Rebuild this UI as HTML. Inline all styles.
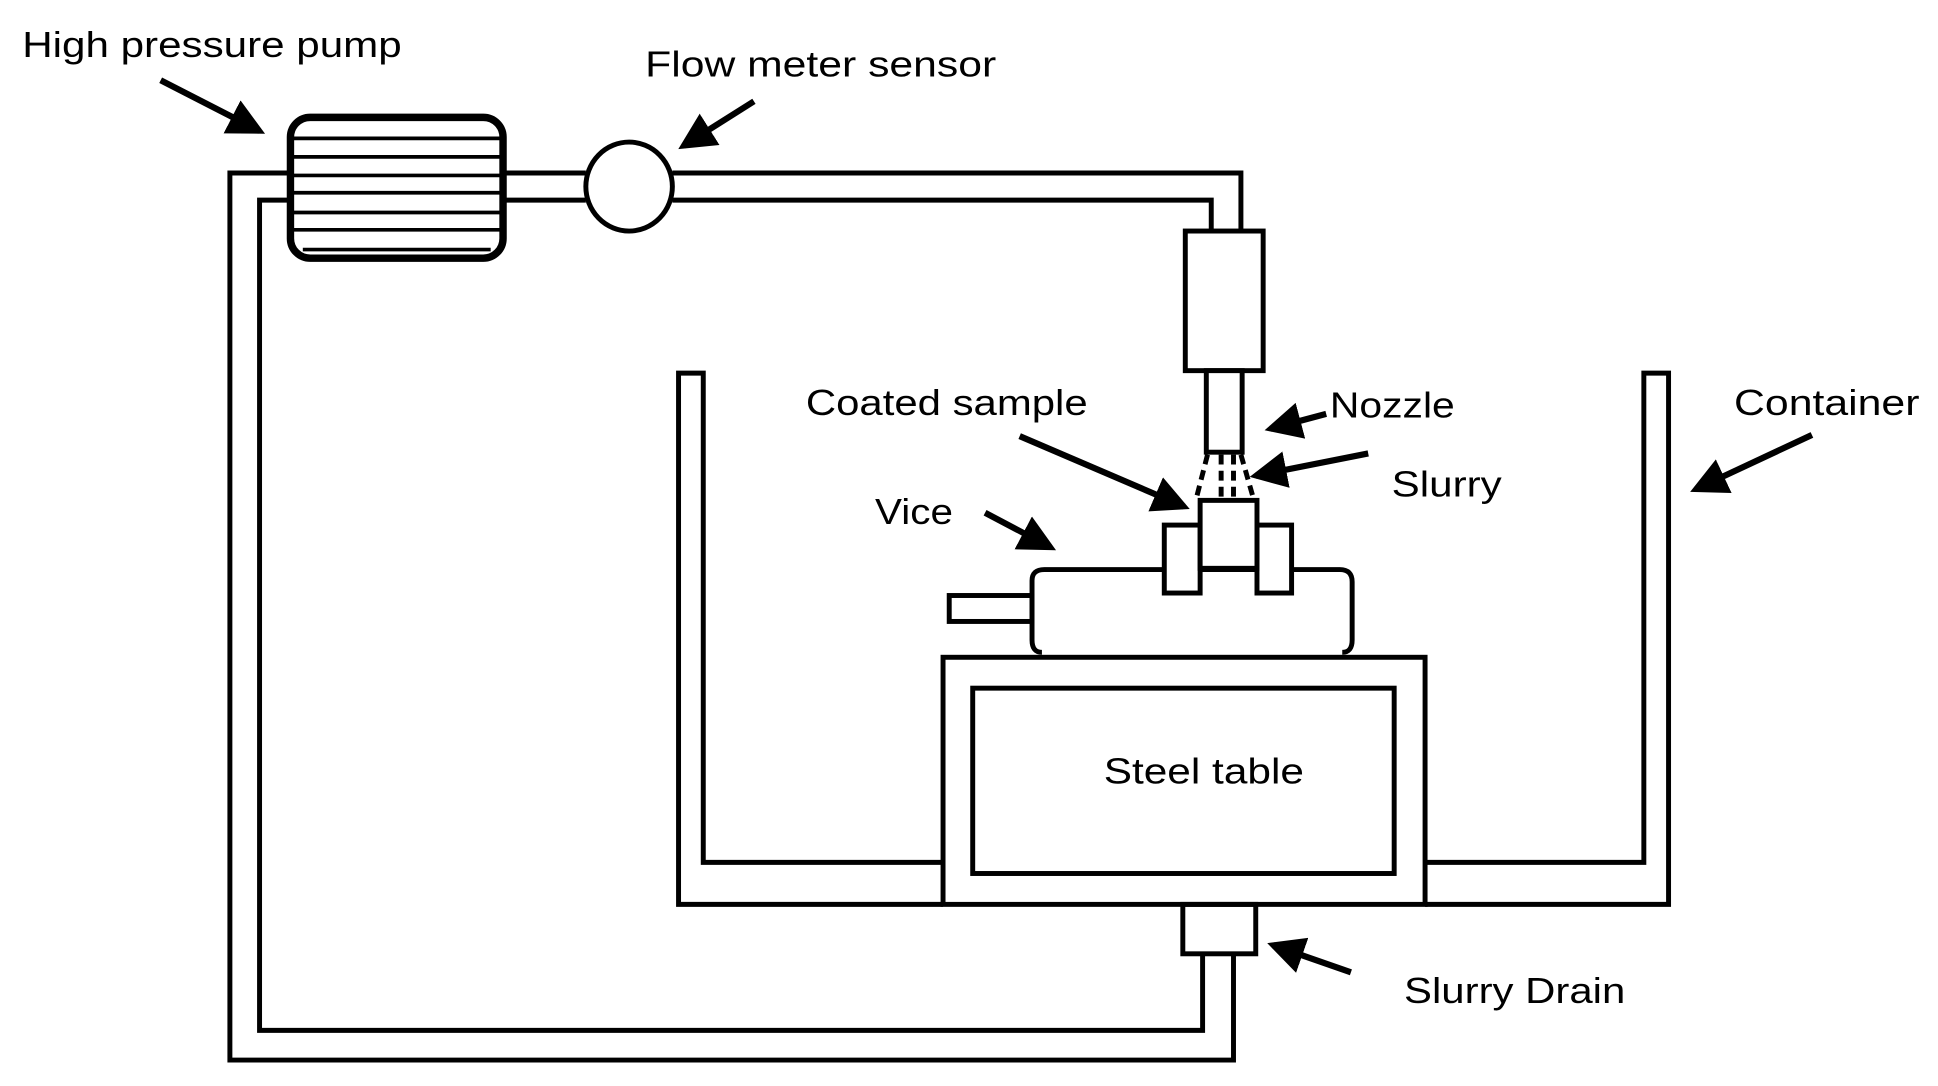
<!DOCTYPE html>
<html><head><style>html,body{margin:0;padding:0;background:#fff;overflow:hidden}svg{display:block}</style></head>
<body>
<svg width="1938" height="1086" viewBox="0 0 1568 879" preserveAspectRatio="none" xmlns="http://www.w3.org/2000/svg" font-family="Liberation Sans, sans-serif" font-size="29">
<defs>
<marker id="ah" markerWidth="6" markerHeight="6" refX="5" refY="3" orient="auto" markerUnits="strokeWidth"><path d="M0,0 L6,3 L0,6 z" fill="#000"/></marker>
</defs>
<g fill="none" stroke="#000" stroke-width="4">
<polyline points="233,140 186,140 186,858 998,858 998,772"/>
<polyline points="233,162 210,162 210,834 973,834 973,772"/>
<line x1="409" y1="140" x2="474" y2="140"/><line x1="409" y1="162" x2="474" y2="162"/>
<polyline points="544,140 1004,140 1004,187"/>
<polyline points="544,162 980,162 980,187"/>
<rect x="235" y="95" width="172" height="114" rx="16" stroke-width="6" fill="#fff"/>
<g stroke-width="3"><line x1="237" y1="112" x2="405" y2="112"/><line x1="237" y1="127" x2="405" y2="127"/><line x1="237" y1="142" x2="405" y2="142"/><line x1="237" y1="156" x2="405" y2="156"/><line x1="237" y1="172" x2="405" y2="172"/><line x1="237" y1="186" x2="405" y2="186"/><line x1="245" y1="202" x2="397" y2="202"/></g>
<ellipse cx="509" cy="151" rx="35" ry="36" fill="#fff"/>
<rect x="959" y="187" width="63" height="113" fill="#fff"/>
<rect x="976" y="300" width="29" height="66" fill="#fff"/>
<g stroke-dasharray="8,5" stroke-width="4"><line x1="977" y1="368" x2="968" y2="403"/><line x1="1004" y1="368" x2="1014" y2="403"/><line x1="988" y1="368" x2="988" y2="403"/><line x1="998" y1="368" x2="998" y2="403"/></g>
<polyline points="763,732 549,732 549,302 569,302 569,698 763,698"/>
<polyline points="1153,732 1350,732 1350,302 1330,302 1330,698 1153,698"/>
<rect x="763" y="532" width="390" height="200"/>
<rect x="787" y="557" width="341" height="150"/>
<rect x="957" y="732" width="59" height="40"/>
<path d="M843,528 Q835,528 835,518 L835,470 Q835,461 845,461 L1084,461 Q1094,461 1094,471 L1094,518 Q1094,528 1086,528"/>
<rect x="768" y="482" width="67" height="21"/>
<rect x="942" y="425" width="29" height="55" fill="#fff"/>
<rect x="1017" y="425" width="28" height="55" fill="#fff"/>
<rect x="971" y="405" width="46" height="55" fill="#fff"/>
<g stroke-width="5" marker-end="url(#ah)">
<line x1="130" y1="65" x2="210" y2="106"/>
<line x1="610" y1="82" x2="553" y2="118"/>
<line x1="1073" y1="335" x2="1028" y2="347"/>
<line x1="1107" y1="367" x2="1016" y2="385"/>
<line x1="825" y1="353" x2="958" y2="410"/>
<line x1="797" y1="415" x2="850" y2="443"/>
<line x1="1466" y1="352" x2="1372" y2="396"/>
<line x1="1093" y1="787" x2="1030" y2="765"/>
</g>
</g>
<g fill="#000" lengthAdjust="spacingAndGlyphs">
<text x="18" y="46" textLength="307" lengthAdjust="spacingAndGlyphs">High pressure pump</text>
<text x="522" y="62" textLength="284" lengthAdjust="spacingAndGlyphs">Flow meter sensor</text>
<text x="652" y="336" textLength="228" lengthAdjust="spacingAndGlyphs">Coated sample</text>
<text x="1076" y="338" textLength="101" lengthAdjust="spacingAndGlyphs">Nozzle</text>
<text x="1126" y="402" textLength="89" lengthAdjust="spacingAndGlyphs">Slurry</text>
<text x="1403" y="336" textLength="150" lengthAdjust="spacingAndGlyphs">Container</text>
<text x="708" y="424" textLength="63" lengthAdjust="spacingAndGlyphs">Vice</text>
<text x="893" y="634" textLength="162" lengthAdjust="spacingAndGlyphs">Steel table</text>
<text x="1136" y="812" textLength="179" lengthAdjust="spacingAndGlyphs">Slurry Drain</text>
</g>
</svg>
</body></html>
